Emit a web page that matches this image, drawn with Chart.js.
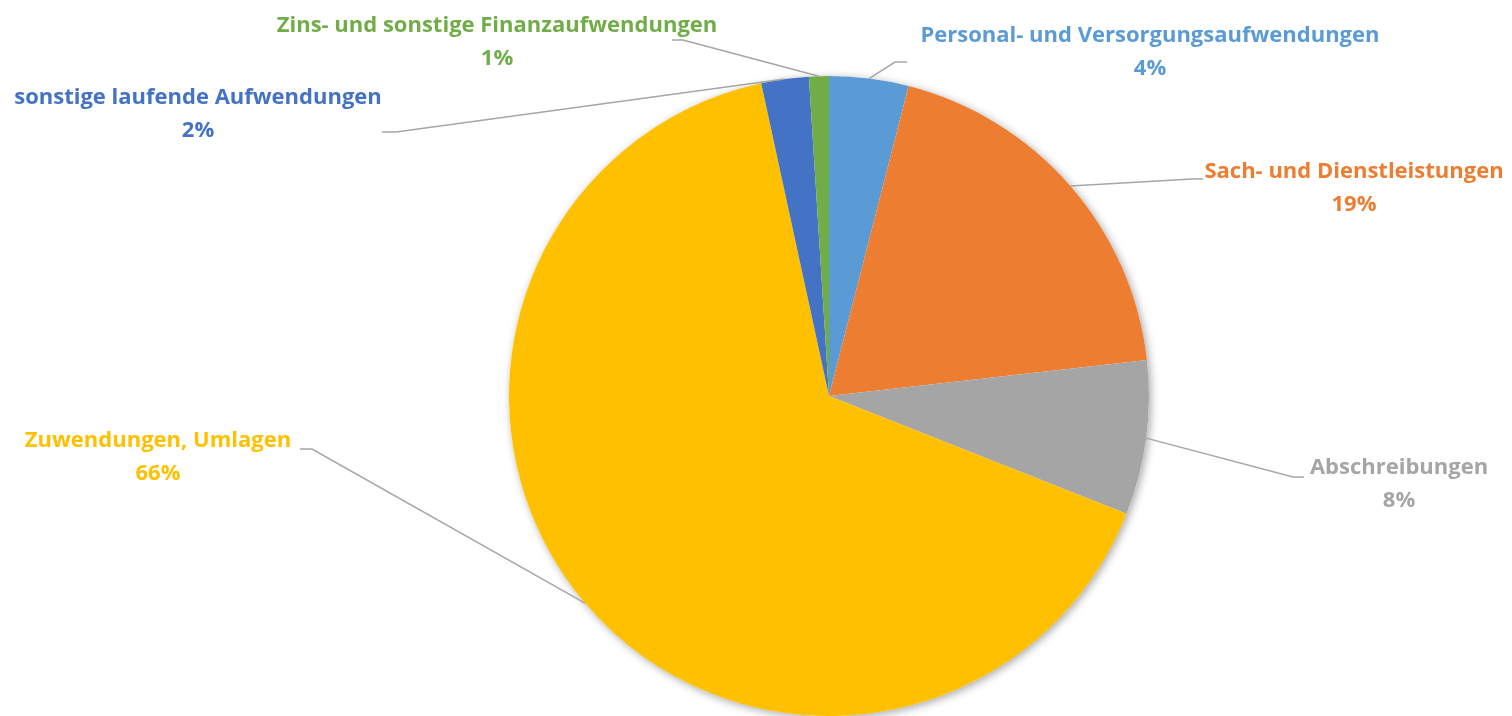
<!DOCTYPE html>
<html lang="de">
<head>
<meta charset="utf-8">
<title>Aufwendungen</title>
<script src="https://cdn.jsdelivr.net/npm/chart.js@4.4.1/dist/chart.umd.min.js"></script>
<style>
  html, body { margin: 0; padding: 0; background: #fff; }
  #pieChart { display: block; }
</style>
</head>
<body>
<canvas id="pieChart" width="1512" height="716"></canvas>
<script>
// Data (shares in %, clockwise from 12 o'clock)
const categories = [
  'Personal- und Versorgungsaufwendungen',
  'Sach- und Dienstleistungen',
  'Abschreibungen',
  'Zuwendungen, Umlagen',
  'sonstige laufende Aufwendungen',
  'Zins- und sonstige Finanzaufwendungen'
];
const shares = [4.0, 19.2, 7.8, 65.6, 2.4, 1.0];
const sliceColors = ['#5B9BD5', '#ED7D31', '#A5A5A5', '#FFC000', '#4472C4', '#70AD47'];

// where each data label sits: leader elbow, end of the short horizontal, text centre
const labelLayout = [
  { elbow: [895, 62],  end: [907, 62],  tx: 1150, ty: 36 },
  { elbow: [1192, 179], end: [1203, 179], tx: 1354, ty: 172 },
  { elbow: [1293, 477], end: [1304, 477], tx: 1399, ty: 468 },
  { elbow: [312, 449], end: [300, 449], tx: 158,  ty: 441 },
  { elbow: [396, 132], end: [382, 132], tx: 198,  ty: 98 },
  { elbow: [683, 40],  end: [672, 40],  tx: 497,  ty: 26 }
];

const FONT = 'bold 22px "Open Sans", "Noto Sans", sans-serif';

// soft shadow under the whole pie
const pieShadow = {
  id: 'pieShadow',
  beforeDatasetsDraw(chart) {
    const arc = chart.getDatasetMeta(0).data[0];
    if (!arc) return;
    const { x, y, outerRadius } = arc.getProps(['x', 'y', 'outerRadius'], true);
    const ctx = chart.ctx;
    ctx.save();
    ctx.shadowColor = 'rgba(0,0,0,0.35)';
    ctx.shadowBlur = 9;
    ctx.shadowOffsetX = 2;
    ctx.shadowOffsetY = 2;
    ctx.beginPath();
    ctx.arc(x, y, outerRadius, 0, Math.PI * 2);
    ctx.fillStyle = '#fff';
    ctx.fill();
    ctx.restore();
  }
};

// leader lines + "name / xx%" labels
const calloutLabels = {
  id: 'calloutLabels',
  afterDatasetsDraw(chart) {
    const ctx = chart.ctx;
    const meta = chart.getDatasetMeta(0);
    const total = shares.reduce((a, b) => a + b, 0);
    meta.data.forEach((arc, i) => {
      const p = arc.getProps(['x', 'y', 'startAngle', 'endAngle', 'outerRadius'], true);
      const mid = (p.startAngle + p.endAngle) / 2;
      const sx = p.x + Math.cos(mid) * p.outerRadius;
      const sy = p.y + Math.sin(mid) * p.outerRadius;
      const lay = labelLayout[i];

      ctx.save();
      ctx.strokeStyle = '#A6A6A6';
      ctx.lineWidth = 1.5;
      ctx.beginPath();
      ctx.moveTo(sx, sy);
      ctx.lineTo(lay.elbow[0], lay.elbow[1]);
      ctx.lineTo(lay.end[0], lay.end[1]);
      ctx.stroke();

      ctx.fillStyle = sliceColors[i];
      ctx.font = FONT;
      ctx.textAlign = 'center';
      ctx.textBaseline = 'middle';
      ctx.fillText(categories[i], lay.tx, lay.ty);
      ctx.fillText(Math.round(shares[i] / total * 100) + '%', lay.tx, lay.ty + 33);
      ctx.restore();
    });
  }
};

const ctx = document.getElementById('pieChart').getContext('2d');
const pieChart = new Chart(ctx, {
  type: 'pie',
  data: {
    labels: categories,
    datasets: [{
      data: shares,
      backgroundColor: sliceColors,
      borderWidth: 0
    }]
  },
  options: {
    responsive: false,
    animation: false,
    devicePixelRatio: 1,
    layout: {
      padding: { top: 76, bottom: 0, left: 509, right: 363 }
    },
    plugins: {
      legend: { display: false },
      tooltip: { enabled: false }
    }
  },
  plugins: [pieShadow, calloutLabels]
});
</script>
</body>
</html>
